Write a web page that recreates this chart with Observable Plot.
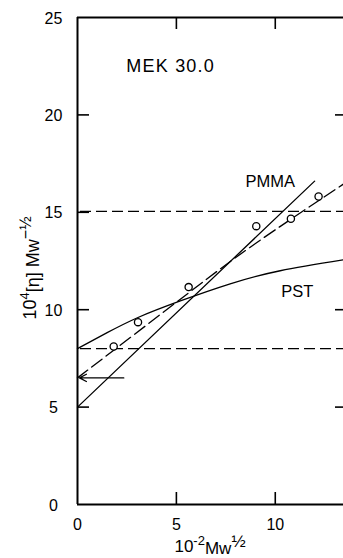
<!DOCTYPE html>
<html>
<head>
<meta charset="utf-8">
<script src="https://cdn.jsdelivr.net/npm/d3@7"></script>
<script src="https://cdn.jsdelivr.net/npm/@observablehq/plot@0.6"></script>
<style>
  html, body { margin: 0; padding: 0; background: #fff; overflow: hidden; }
  svg { display: block; }
</style>
</head>
<body>
<div id="chart"></div>
<script>
// ---- data ----
const xTicks = [0, 5, 10];
const yTicks = [0, 5, 10, 15, 20, 25];
const innerTicksY = [5, 10, 15, 20];
const rightTicksY = [5, 10, 20];
const innerTicksX = [5, 10];

// experimental points
const pointX = [1.83, 3.06, 5.62, 9.04, 10.79, 12.19];
const pointY = [8.11, 9.36, 11.16, 14.29, 14.67, 15.81];

// dashed fit through points
const fitX = [0, 2, 5.6, 9, 13.45];
const fitY = [6.5, 8.05, 10.85, 13.4, 16.45];

// PMMA straight line
const pmmaX = [0, 11.99];
const pmmaY = [5.0, 16.6];

// PST curve
const pstX = [0, 1.5, 3.06, 5.2, 7.72, 10.25, 13.45];
const pstY = [8.0, 8.82, 9.6, 10.45, 11.33, 12.0, 12.56];

// horizontal dashed reference levels
const levels = [8.0, 15.05];

// intercept arrow
const arrowFrom = 2.34, arrowTo = 0.1, arrowY = 6.5;

const W = 343, H = 558, mL = 77, mR = 0, mT = 17, mB = 54;
const pw = W - mL - mR, ph = H - mT - mB;
const FONT = "'Liberation Sans', Arial, Helvetica, sans-serif";

const points = pointX.map((x, i) => ({x, y: pointY[i]}));
const fit = fitX.map((x, i) => ({x, y: fitY[i]}));
const pmma = pmmaX.map((x, i) => ({x, y: pmmaY[i]}));
const pst = pstX.map((x, i) => ({x, y: pstY[i]}));

// custom mark for axis titles with super-scripts
function titles() {
  const g = d3.create("svg:g").attr("font-family", FONT).attr("fill", "black");
  // x title
  const tx = g.append("text").attr("x", 210).attr("y", 552).attr("text-anchor", "middle").attr("font-size", 17);
  tx.append("tspan").text("10");
  tx.append("tspan").attr("dy", "-0.55em").attr("font-size", 13).text("-2");
  tx.append("tspan").attr("dy", "0.55em").text("Mw");
  tx.append("tspan").attr("dy", "-0.45em").attr("font-size", 17).text("½");
  // y title
  const ty = g.append("text").attr("transform", "translate(36,268) rotate(-90)").attr("text-anchor", "middle").attr("font-size", 18);
  ty.append("tspan").text("10");
  ty.append("tspan").attr("dy", "-0.55em").attr("font-size", 13).text("4");
  ty.append("tspan").attr("dy", "0.55em").text("[η] Mw");
  ty.append("tspan").attr("dy", "-0.5em").attr("font-size", 16).text("−½");
  return g.node();
}

const chart = Plot.plot({
  width: W, height: H,
  marginLeft: mL, marginRight: mR, marginTop: mT, marginBottom: mB,
  x: {domain: [0, 13.45], axis: null},
  y: {domain: [0, 25], axis: null},
  style: {fontFamily: FONT, background: "white", color: "black", overflow: "visible"},
  marks: [
    // frame
    Plot.ruleX([0], {stroke: "black", strokeWidth: 2}),
    Plot.ruleY([0, 25], {stroke: "black", strokeWidth: 2}),
    // inner ticks
    Plot.ruleY(innerTicksY, {stroke: "black", strokeWidth: 1.6, insetRight: pw - 12}),
    Plot.ruleY(rightTicksY, {stroke: "black", strokeWidth: 1.6, insetLeft: pw - 8}),
    Plot.ruleX(innerTicksX, {stroke: "black", strokeWidth: 1.6, insetTop: ph - 12}),
    Plot.ruleX(innerTicksX, {stroke: "black", strokeWidth: 1.6, insetBottom: ph - 12}),
    // tick labels
    Plot.text(yTicks, {x: 0, y: d => d, text: d => String(d), dx: -24, dy: 1, textAnchor: "middle", lineAnchor: "middle", fontSize: 16, fill: "black"}),
    Plot.text(xTicks, {x: d => d, y: 0, text: d => String(d), dy: 20, textAnchor: "middle", lineAnchor: "middle", fontSize: 16, fill: "black"}),
    // horizontal dashed levels
    Plot.ruleY(levels, {stroke: "black", strokeWidth: 1.2, strokeDasharray: "11,5", insetLeft: 3}),
    // fitted dashed line
    Plot.line(fit, {x: "x", y: "y", curve: "natural", stroke: "black", strokeWidth: 1.3, strokeDasharray: "13,5"}),
    // PMMA line
    Plot.line(pmma, {x: "x", y: "y", stroke: "black", strokeWidth: 1.3}),
    // PST curve
    Plot.line(pst, {x: "x", y: "y", curve: "natural", stroke: "black", strokeWidth: 1.3}),
    // arrow
    Plot.arrow([{x1: arrowFrom, x2: arrowTo, y: arrowY}], {x1: "x1", x2: "x2", y1: "y", y2: "y", stroke: "black", strokeWidth: 1.3, headLength: 9, headAngle: 55}),
    // points
    Plot.dot(points, {x: "x", y: "y", r: 3.6, stroke: "black", strokeWidth: 1.3, fill: "white"}),
    // annotations
    Plot.text(["MEK 30.0"], {x: 2.47, y: 22.18, text: d => d, textAnchor: "start", lineAnchor: "bottom", fontSize: 18, fill: "black"}),
    Plot.text(["PMMA"], {x: 8.5, y: 16.3, text: d => d, textAnchor: "start", lineAnchor: "bottom", fontSize: 16.5, fill: "black"}),
    Plot.text(["PST"], {x: 10.3, y: 10.65, text: d => d, textAnchor: "start", lineAnchor: "bottom", fontSize: 16.5, fill: "black"}),
    titles
  ]
});
d3.select(chart).selectAll("text").filter(function() { return this.textContent === "MEK 30.0"; }).attr("letter-spacing", "1.2px");
document.getElementById("chart").appendChild(chart);
</script>
</body>
</html>
